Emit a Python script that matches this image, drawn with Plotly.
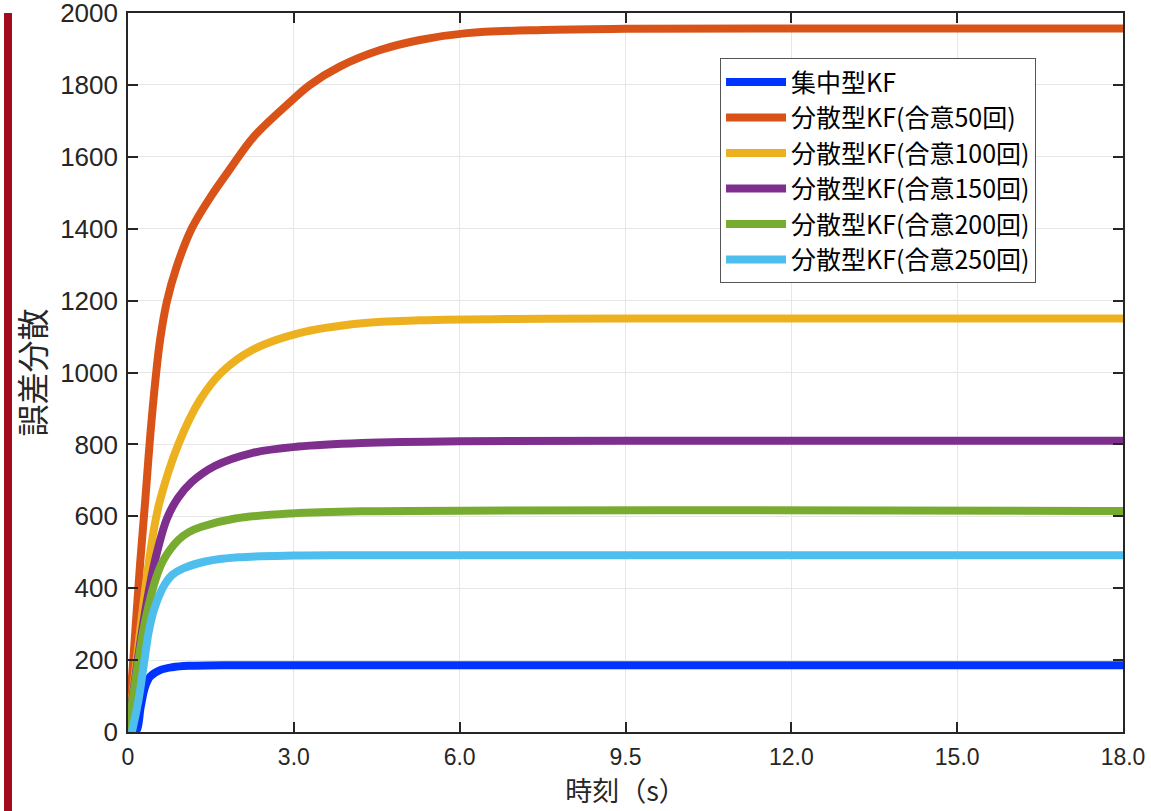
import plotly.graph_objects as go

# ---- data ----
names = ["集中型KF", "分散型KF(合意50回)", "分散型KF(合意100回)",
         "分散型KF(合意150回)", "分散型KF(合意200回)", "分散型KF(合意250回)"]
colors = ["#0033FF", "#D95319", "#EDB120", "#7E2F8E", "#77AC30", "#4DBEEE"]

t_central = [0, 0.1, 0.16, 0.23, 0.31, 0.4, 0.58, 0.8, 1.1, 2.0, 18.0]
v_central = [0, 0, 6, 70, 126, 154, 172, 180, 184, 186, 186]

t_50 = [0, 0.1, 0.22, 0.32, 0.4, 0.5, 0.58, 0.7, 0.88, 1.15, 1.5, 1.85, 2.27, 2.93,
        3.29, 3.83, 4.56, 5.28, 6.13, 7.5, 9.0, 12.0, 18.0]
v_50 = [0, 210, 470, 660, 820, 985, 1090, 1195, 1294, 1400, 1490, 1567, 1655, 1752,
        1800, 1851, 1897, 1925, 1944, 1953, 1956, 1957, 1957]

t_100 = [0, 0.15, 0.25, 0.37, 0.47, 0.58, 0.91, 1.3, 1.69, 2.24, 3.08, 4.23, 5.28, 7.0, 9.0, 18.0]
v_100 = [0, 190, 320, 465, 565, 645, 800, 923, 1000, 1062, 1109, 1137, 1145, 1149, 1150, 1150]

t_150 = [0, 0.2, 0.35, 0.49, 0.7, 0.9, 1.15, 1.57, 2.24, 3.08, 4.23, 6.0, 9.0, 18.0]
v_150 = [0, 225, 370, 478, 592, 650, 695, 740, 776, 794, 804, 809, 810, 810]

t_200 = [0, 0.15, 0.28, 0.37, 0.5, 0.64, 0.91, 1.1, 1.33, 1.94, 2.96, 4.23, 18.0]
v_200 = [0, 160, 285, 350, 425, 478, 534, 556, 571, 594, 608, 614, 615]

t_250 = [0.07, 0.19, 0.28, 0.37, 0.45, 0.52, 0.6, 0.67, 0.8, 1.0, 1.42, 2.0, 3.0, 4.07, 18.0]
v_250 = [0, 89, 181, 275, 330, 362, 392, 412, 437, 455, 475, 486, 491, 492, 492]

x_tickvals = [0, 3, 6, 9, 12, 15, 18]
x_ticktext = ["0", "3.0", "6.0", "9.5", "12.0", "15.0", "18.0"]
y_tickvals = [0, 200, 400, 600, 800, 1000, 1200, 1400, 1600, 1800, 2000]

series_t = [t_central, t_50, t_100, t_150, t_200, t_250]
series_v = [v_central, v_50, v_100, v_150, v_200, v_250]

CJK = "Noto Sans CJK JP"

fig = go.Figure()
for n, c, tt, vv in zip(names, colors, series_t, series_v):
    fig.add_trace(go.Scatter(x=tt, y=vv, mode="lines", name=n,
                             line=dict(color=c, width=8, shape="spline", smoothing=1.0)))

axis_common = dict(showline=True, linecolor="#262626", linewidth=1.6, mirror="ticks",
                   ticks="inside", ticklen=10, tickwidth=1.6, tickcolor="#262626",
                   showgrid=True, gridcolor="#E6E6E6", gridwidth=1, zeroline=False,
                   automargin=False, ticklabeloverflow="allow")

fig.update_layout(
    width=1151, height=811,
    margin=dict(l=128, r=28, t=13, b=79),
    paper_bgcolor="white", plot_bgcolor="white",
    xaxis=dict(range=[0, 18], tickmode="array", tickvals=x_tickvals, ticktext=x_ticktext,
               tickfont=dict(family="Liberation Sans", size=23, color="#262626"),
               ticklabelstandoff=4,
               title=dict(text="時刻（s）", font=dict(family=CJK, size=27, color="#262626"), standoff=10),
               **axis_common),
    yaxis=dict(range=[0, 2000], tickmode="array", tickvals=y_tickvals,
               tickfont=dict(family="Liberation Sans", size=26, color="#262626"),
               ticklabelstandoff=3,
               title=dict(text="誤差分散", font=dict(family=CJK, size=32, color="#262626"), standoff=5),
               **axis_common),
    legend=dict(x=0.595, y=0.937, xanchor="left", yanchor="top",
                bgcolor="white", bordercolor="#555555", borderwidth=1,
                font=dict(family=CJK, size=25, color="black"),
                itemwidth=60, tracegroupgap=0),
    showlegend=True,
    shapes=[dict(type="rect", xref="paper", yref="paper",
                 x0=-0.1246, x1=-0.1166, y0=-0.11, y1=1.0,
                 fillcolor="#A10A1E", line=dict(width=0), layer="above")],
)

fig.write_html("out.html", config={"displayModeBar": False},
               post_script="document.body.style.margin='0';")
